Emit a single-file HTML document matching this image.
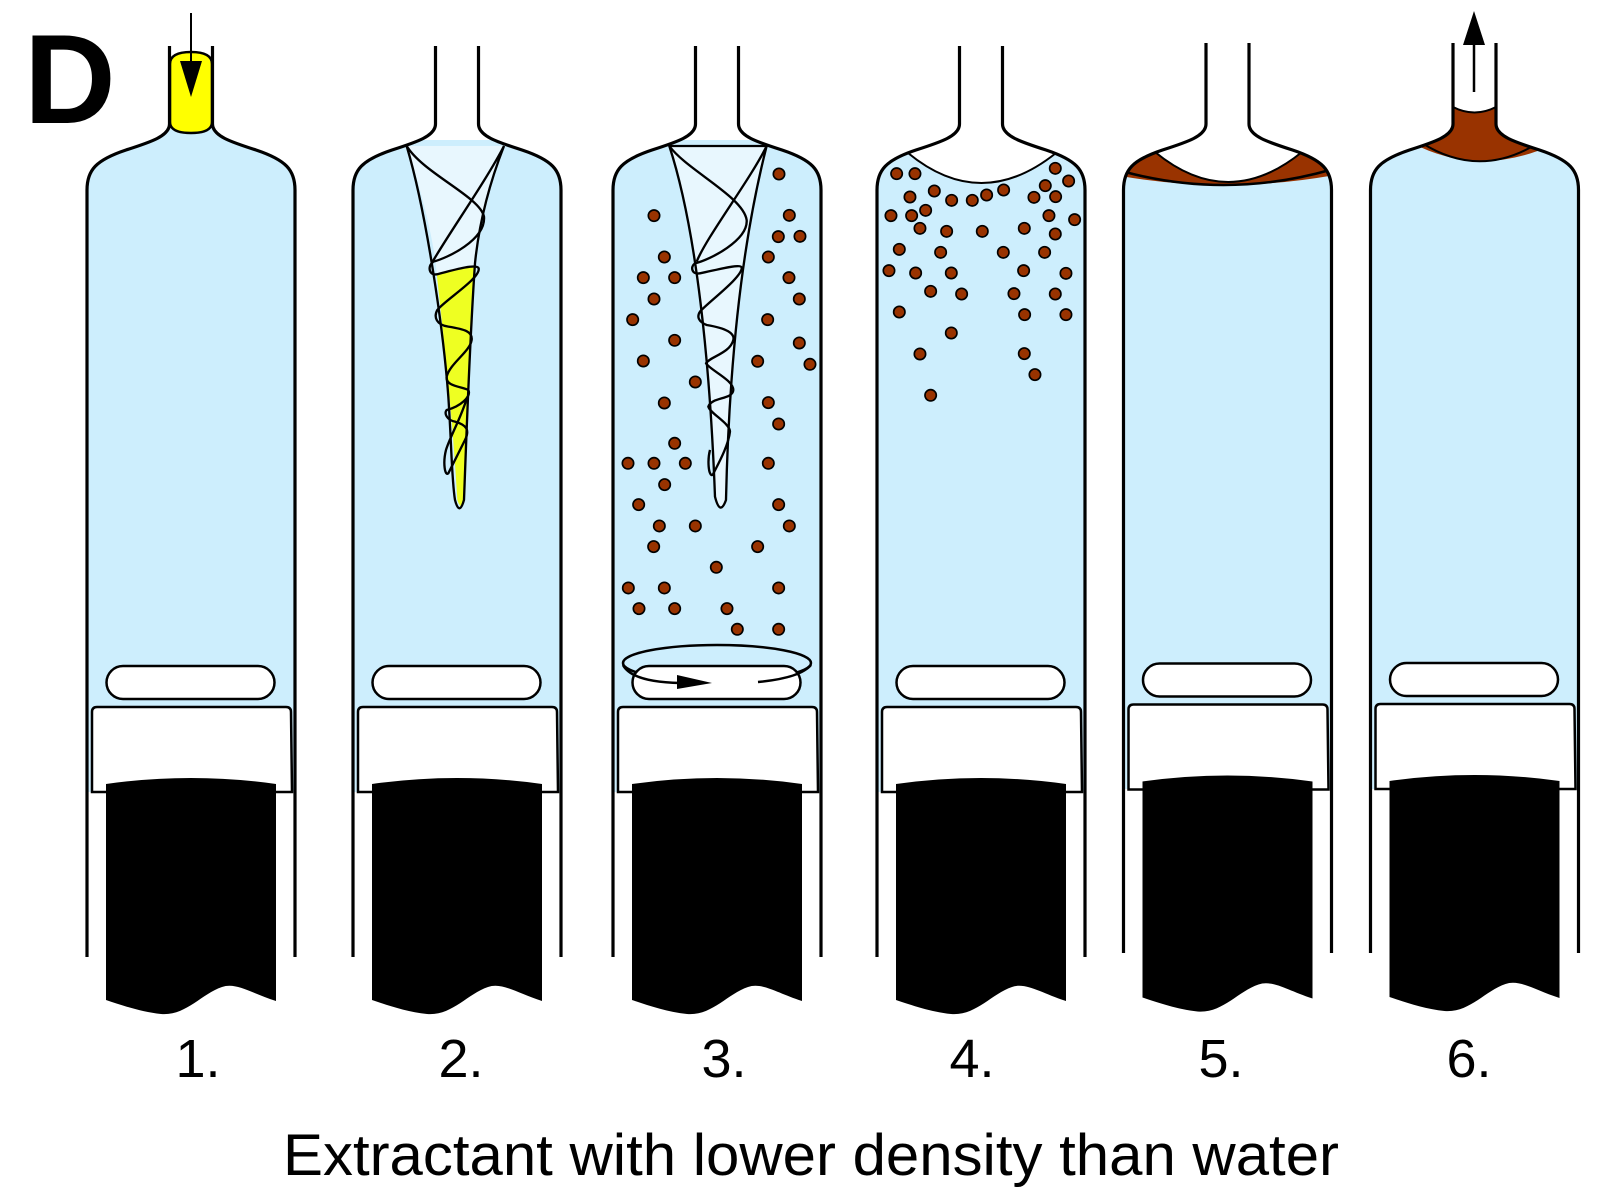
<!DOCTYPE html>
<html><head><meta charset="utf-8"><style>html,body{margin:0;padding:0;background:#fff}svg{display:block}</style></head>
<body>
<svg width="1600" height="1188" viewBox="0 0 1600 1188" xmlns="http://www.w3.org/2000/svg">
<rect width="1600" height="1188" fill="#fff"/>
<text x="24" y="123" font-family="Liberation Sans, sans-serif" font-weight="bold" font-size="127">D</text>

<clipPath id="c1"><path d="M169.5,30 L169.5,124 C169.5,136 151,142 126,150 C96,160 87,170 87,190 L87,957 L295,957 L295,190 C295,170 286,160 256,150 C231,142 212.5,136 212.5,124 L212.5,30 Z"/></clipPath>
<rect x="80" y="128" width="220" height="664" fill="#cdeefd" clip-path="url(#c1)"/>
<path d="M170,64 Q170,52 191,52 Q212,52 212,64 L212,122 Q212,133 191,133 Q170,133 170,122 Z" fill="#ffff00" stroke="#000" stroke-width="2.5"/>

<clipPath id="c2"><path d="M435.5,30 L435.5,124 C435.5,136 417,142 392,150 C362,160 353,170 353,190 L353,957 L561,957 L561,190 C561,170 552,160 522,150 C497,142 478.5,136 478.5,124 L478.5,30 Z"/></clipPath>
<rect x="340" y="140" width="230" height="652" fill="#cdeefd" clip-path="url(#c2)"/>
<clipPath id="c3"><path d="M695.5,30 L695.5,124 C695.5,136 677,142 652,150 C622,160 613,170 613,190 L613,957 L821,957 L821,190 C821,170 812,160 782,150 C757,142 738.5,136 738.5,124 L738.5,30 Z"/></clipPath>
<rect x="600" y="140" width="230" height="652" fill="#cdeefd" clip-path="url(#c3)"/>
<clipPath id="c4"><path d="M959.5,30 L959.5,124 C959.5,136 941,142 916,150 C886,160 877,170 877,190 L877,957 L1085,957 L1085,190 C1085,170 1076,160 1046,150 C1021,142 1002.5,136 1002.5,124 L1002.5,30 Z"/></clipPath>
<rect x="860" y="140" width="240" height="652" fill="#cdeefd" clip-path="url(#c4)"/>
<path d="M908,153 Q981,213 1056,153 L1056,60 L908,60 Z" fill="#fff" clip-path="url(#c4)"/>
<path d="M908,153 Q981,213 1056,153" fill="none" stroke="#000" stroke-width="2"/>

<clipPath id="c5"><path d="M1206,30 L1206,124 C1206,136 1187.5,142 1162.5,150 C1132.5,160 1123.5,170 1123.5,190 L1123.5,957 L1331.5,957 L1331.5,190 C1331.5,170 1322.5,160 1292.5,150 C1267.5,142 1249,136 1249,124 L1249,30 Z"/></clipPath>
<rect x="1110" y="140" width="240" height="649" fill="#cdeefd" clip-path="url(#c5)"/>
<path d="M1100,100 L1360,100 L1360,170 Q1227,199 1100,172 Z" fill="#993300" clip-path="url(#c5)"/>
<path d="M1155,152 Q1228,212 1302,152 L1302,60 L1155,60 Z" fill="#fff" clip-path="url(#c5)"/>
<path d="M1155,152 Q1228,212 1302,152" fill="none" stroke="#000" stroke-width="2" clip-path="url(#c5)"/>
<path d="M1125,172 Q1227,199 1330,170" fill="none" stroke="#000" stroke-width="2.5" clip-path="url(#c5)"/>

<clipPath id="c6"><path d="M1453,30 L1453,124 C1453,136 1434.5,142 1409.5,150 C1379.5,160 1370.5,170 1370.5,190 L1370.5,957 L1578.5,957 L1578.5,190 C1578.5,170 1569.5,160 1539.5,150 C1514.5,142 1496,136 1496,124 L1496,30 Z"/></clipPath>
<rect x="1360" y="100" width="240" height="689" fill="#cdeefd" clip-path="url(#c6)"/>
<path d="M1400,100 L1550,100 L1550,146 Q1477,178 1410,142 Z" fill="#993300" clip-path="url(#c6)"/>
<path d="M1422,143 Q1477,178 1533,146" fill="none" stroke="#000" stroke-width="2" clip-path="url(#c6)"/>
<path d="M1453,107 Q1474.5,118 1496,107 L1496,30 L1453,30 Z" fill="#fff"/>
<path d="M1453,107 Q1474.5,118 1496,107" fill="none" stroke="#000" stroke-width="2"/>

<!-- S2 cone -->
<g transform="translate(380,130) scale(0.3333)" stroke="#000" stroke-width="7" fill="none" stroke-linejoin="round">
<path d="M80,48 C130,200 165,350 170,430 L285,410 C290,300 330,150 372,48 Z" fill="#e8f7fe" stroke="none"/>
<path d="M170,430 L285,410 C275,600 262,900 255,1100 Q245,1150 232,1110 C220,900 200,700 170,430 Z" fill="#eeff22" stroke="none"/>
<path d="M80,48 C140,250 190,600 205,800 C215,950 215,1050 225,1110 Q238,1160 252,1110 C260,900 268,650 285,400 C300,250 340,130 372,48"/>
<path d="M80,48 C130,130 300,200 312,260 C318,330 200,385 160,395 C140,410 148,440 175,432 C220,420 290,400 296,415 C302,445 195,510 172,540 C160,562 170,585 205,590 C255,598 278,605 275,630 C270,665 210,700 200,740 C195,770 250,770 265,780 C275,800 240,830 200,840 C192,850 200,870 225,875 C260,885 270,900 255,930 C240,960 215,1010 205,1030 C195,1040 188,1000 198,960 C210,920 245,860 262,800"/>
<path d="M372,48 C320,150 200,320 155,400"/>
</g>

<!-- S3 cone -->
<g transform="translate(600,130) scale(0.3333)" stroke="#000" stroke-width="7" fill="none" stroke-linejoin="round">
<path d="M208,48 C290,300 330,700 345,1100 Q360,1160 378,1110 C385,800 410,400 500,48 Z" fill="#e8f7fe"/>
<path d="M208,48 C260,120 430,200 440,270 C445,330 330,390 285,400 C270,410 275,435 300,430 C350,420 420,400 425,412 C430,440 320,520 300,545 C290,560 295,575 320,585 C380,595 405,610 400,630 C390,670 330,680 318,700 C330,720 400,750 400,780 C398,810 335,800 325,830 C330,850 390,880 390,905 C385,950 350,1010 338,1035 C325,1040 322,990 330,960"/>
<path d="M500,48 C450,150 320,320 290,395"/>
</g>

<g transform="translate(600,130) scale(0.3333)" fill="#993300" stroke="#000" stroke-width="5">
<circle cx="537" cy="132" r="17"/><circle cx="162" cy="257" r="17"/><circle cx="568" cy="256" r="17"/><circle cx="535" cy="320" r="17"/><circle cx="600" cy="319" r="17"/><circle cx="193" cy="381" r="17"/><circle cx="505" cy="381" r="17"/><circle cx="130" cy="443" r="17"/><circle cx="224" cy="443" r="17"/><circle cx="567" cy="443" r="17"/><circle cx="162" cy="507" r="17"/><circle cx="598" cy="507" r="17"/><circle cx="98" cy="569" r="17"/><circle cx="503" cy="569" r="17"/><circle cx="224" cy="631" r="17"/><circle cx="598" cy="639" r="17"/><circle cx="130" cy="693" r="17"/><circle cx="473" cy="694" r="17"/><circle cx="630" cy="703" r="17"/><circle cx="286" cy="756" r="17"/><circle cx="193" cy="819" r="17"/><circle cx="505" cy="818" r="17"/><circle cx="536" cy="882" r="17"/><circle cx="224" cy="940" r="17"/><circle cx="84" cy="1000" r="17"/><circle cx="162" cy="1000" r="17"/><circle cx="256" cy="1000" r="17"/><circle cx="505" cy="1000" r="17"/><circle cx="194" cy="1064" r="17"/><circle cx="116" cy="1124" r="17"/><circle cx="536" cy="1124" r="17"/><circle cx="178" cy="1188" r="17"/><circle cx="286" cy="1188" r="17"/><circle cx="568" cy="1188" r="17"/><circle cx="161" cy="1250" r="17"/><circle cx="473" cy="1250" r="17"/><circle cx="349" cy="1312" r="17"/><circle cx="85" cy="1374" r="17"/><circle cx="193" cy="1374" r="17"/><circle cx="536" cy="1374" r="17"/><circle cx="117" cy="1436" r="17"/><circle cx="224" cy="1436" r="17"/><circle cx="381" cy="1436" r="17"/><circle cx="412" cy="1498" r="17"/><circle cx="536" cy="1498" r="17"/>
<circle cx="890" cy="131" r="17"/><circle cx="945" cy="131" r="17"/><circle cx="1366" cy="115" r="17"/><circle cx="1406" cy="153" r="17"/><circle cx="1003" cy="183" r="17"/><circle cx="930" cy="201" r="17"/><circle cx="1055" cy="211" r="17"/><circle cx="1117" cy="211" r="17"/><circle cx="1160" cy="195" r="17"/><circle cx="1211" cy="180" r="17"/><circle cx="1336" cy="167" r="17"/><circle cx="1302" cy="202" r="17"/><circle cx="1367" cy="200" r="17"/><circle cx="873" cy="257" r="17"/><circle cx="935" cy="257" r="17"/><circle cx="977" cy="241" r="17"/><circle cx="1347" cy="257" r="17"/><circle cx="1424" cy="269" r="17"/><circle cx="960" cy="295" r="17"/><circle cx="1040" cy="304" r="17"/><circle cx="1147" cy="304" r="17"/><circle cx="1273" cy="295" r="17"/><circle cx="1366" cy="312" r="17"/><circle cx="898" cy="358" r="17"/><circle cx="1022" cy="367" r="17"/><circle cx="1210" cy="367" r="17"/><circle cx="1334" cy="367" r="17"/><circle cx="867" cy="422" r="17"/><circle cx="947" cy="429" r="17"/><circle cx="1054" cy="429" r="17"/><circle cx="1271" cy="422" r="17"/><circle cx="1398" cy="430" r="17"/><circle cx="992" cy="484" r="17"/><circle cx="1085" cy="492" r="17"/><circle cx="1242" cy="491" r="17"/><circle cx="1366" cy="492" r="17"/><circle cx="898" cy="546" r="17"/><circle cx="1274" cy="554" r="17"/><circle cx="1398" cy="554" r="17"/><circle cx="1054" cy="609" r="17"/><circle cx="960" cy="672" r="17"/><circle cx="1273" cy="671" r="17"/><circle cx="1305" cy="734" r="17"/><circle cx="992" cy="796" r="17"/>
</g>

<g fill="none" stroke="#000" stroke-width="3.2">
<path d="M169.5,46 L169.5,124 C169.5,136 151,142 126,150 C96,160 87,170 87,190 L87,957 M212.5,46 L212.5,124 C212.5,136 231,142 256,150 C286,160 295,170 295,190 L295,957"/>
<path d="M435.5,46 L435.5,124 C435.5,136 417,142 392,150 C362,160 353,170 353,190 L353,957 M478.5,46 L478.5,124 C478.5,136 497,142 522,150 C552,160 561,170 561,190 L561,957"/>
<path d="M695.5,46 L695.5,124 C695.5,136 677,142 652,150 C622,160 613,170 613,190 L613,957 M738.5,46 L738.5,124 C738.5,136 757,142 782,150 C812,160 821,170 821,190 L821,957"/>
<path d="M959.5,46 L959.5,124 C959.5,136 941,142 916,150 C886,160 877,170 877,190 L877,957 M1002.5,46 L1002.5,124 C1002.5,136 1021,142 1046,150 C1076,160 1085,170 1085,190 L1085,957"/>
<path d="M1206,43 L1206,124 C1206,136 1187.5,142 1162.5,150 C1132.5,160 1123.5,170 1123.5,190 L1123.5,953 M1249,43 L1249,124 C1249,136 1267.5,142 1292.5,150 C1322.5,160 1331.5,170 1331.5,190 L1331.5,953"/>
<path d="M1453,43 L1453,124 C1453,136 1434.5,142 1409.5,150 C1379.5,160 1370.5,170 1370.5,190 L1370.5,953 M1496,43 L1496,124 C1496,136 1514.5,142 1539.5,150 C1569.5,160 1578.5,170 1578.5,190 L1578.5,953"/>
</g>

<line x1="191" y1="13" x2="191" y2="70" stroke="#000" stroke-width="2"/>
<polygon points="180,61 202,61 191,97" fill="#000"/>
<line x1="1474" y1="92" x2="1474" y2="40" stroke="#000" stroke-width="2.5"/>
<polygon points="1463,45 1485,45 1474,11" fill="#000"/>

<ellipse cx="717" cy="663" rx="94" ry="18" fill="none" stroke="#000" stroke-width="2.5"/>

<g stroke="#000" stroke-width="2.5">
<g>
<rect x="106.5" y="666" width="168" height="33" rx="16.5" fill="#fff"/>
<path d="M92,792 L92,712 Q92,707 97,707 L286,707 Q291,707 291,712 L292,792 Z" fill="#fff"/>
<path d="M106,784 Q191,772 276,784 L276,1001 C251,993 236,982 222,987 C201,994 186,1016 161,1014 C141,1012 121,1005 106,1000 Z" fill="#000" stroke="none"/>
</g>
<g transform="translate(266,0)">
<rect x="106.5" y="666" width="168" height="33" rx="16.5" fill="#fff"/>
<path d="M92,792 L92,712 Q92,707 97,707 L286,707 Q291,707 291,712 L292,792 Z" fill="#fff"/>
<path d="M106,784 Q191,772 276,784 L276,1001 C251,993 236,982 222,987 C201,994 186,1016 161,1014 C141,1012 121,1005 106,1000 Z" fill="#000" stroke="none"/>
</g>
<g transform="translate(526,0)">
<rect x="106.5" y="666" width="168" height="33" rx="16.5" fill="#fff"/>
<path d="M92,792 L92,712 Q92,707 97,707 L286,707 Q291,707 291,712 L292,792 Z" fill="#fff"/>
<path d="M106,784 Q191,772 276,784 L276,1001 C251,993 236,982 222,987 C201,994 186,1016 161,1014 C141,1012 121,1005 106,1000 Z" fill="#000" stroke="none"/>
</g>
<g transform="translate(790,0)">
<rect x="106.5" y="666" width="168" height="33" rx="16.5" fill="#fff"/>
<path d="M92,792 L92,712 Q92,707 97,707 L286,707 Q291,707 291,712 L292,792 Z" fill="#fff"/>
<path d="M106,784 Q191,772 276,784 L276,1001 C251,993 236,982 222,987 C201,994 186,1016 161,1014 C141,1012 121,1005 106,1000 Z" fill="#000" stroke="none"/>
</g>
<g transform="translate(1036.5,-2.5)">
<rect x="106.5" y="666" width="168" height="33" rx="16.5" fill="#fff"/>
<path d="M92,792 L92,712 Q92,707 97,707 L286,707 Q291,707 291,712 L292,792 Z" fill="#fff"/>
<path d="M106,784 Q191,772 276,784 L276,1001 C251,993 236,982 222,987 C201,994 186,1016 161,1014 C141,1012 121,1005 106,1000 Z" fill="#000" stroke="none"/>
</g>
<g transform="translate(1283.5,-3)">
<rect x="106.5" y="666" width="168" height="33" rx="16.5" fill="#fff"/>
<path d="M92,792 L92,712 Q92,707 97,707 L286,707 Q291,707 291,712 L292,792 Z" fill="#fff"/>
<path d="M106,784 Q191,772 276,784 L276,1001 C251,993 236,982 222,987 C201,994 186,1016 161,1014 C141,1012 121,1005 106,1000 Z" fill="#000" stroke="none"/>
</g>
</g>

<path d="M623,665 Q632,682 680,683 L700,683 M758,682 Q800,678 811,665" fill="none" stroke="#000" stroke-width="2.5"/>
<polygon points="677,675 712,683 677,689" fill="#000"/>

<g font-family="Liberation Sans, sans-serif" font-size="54" text-anchor="middle" fill="#000">
<text x="198" y="1077">1.</text>
<text x="461" y="1077">2.</text>
<text x="724" y="1077">3.</text>
<text x="972" y="1077">4.</text>
<text x="1221" y="1077">5.</text>
<text x="1469" y="1077">6.</text>
</g>
<text x="283" y="1175" font-family="Liberation Sans, sans-serif" font-size="58" textLength="1056" lengthAdjust="spacingAndGlyphs">Extractant with lower density than water</text>
</svg>
</body></html>
